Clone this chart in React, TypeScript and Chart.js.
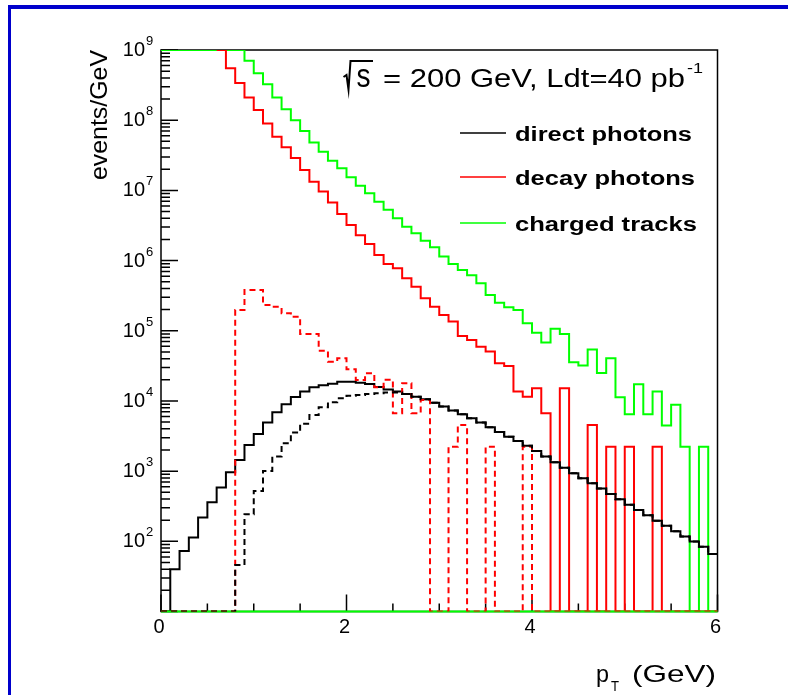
import React, { useEffect, useRef } from 'react';
import { Chart, registerables } from 'chart.js';

Chart.register(...registerables);

// ---------------- data ----------------
const Y_MIN = 10;
const Y_MAX = 1e9;

// histogram bin edges in pT (GeV), 60 bins of 0.1 GeV
const binEdges = [
  0.0, 0.1, 0.2, 0.3, 0.4, 0.5, 0.6, 0.7, 0.8, 0.9,
  1.0, 1.1, 1.2, 1.3, 1.4, 1.5, 1.6, 1.7, 1.8, 1.9,
  2.0, 2.1, 2.2, 2.3, 2.4, 2.5, 2.6, 2.7, 2.8, 2.9,
  3.0, 3.1, 3.2, 3.3, 3.4, 3.5, 3.6, 3.7, 3.8, 3.9,
  4.0, 4.1, 4.2, 4.3, 4.4, 4.5, 4.6, 4.7, 4.8, 4.9,
  5.0, 5.1, 5.2, 5.3, 5.4, 5.5, 5.6, 5.7, 5.8, 5.9,
  6.0,
];

// direct photons (solid black)
const directPhotons = [
  0, 40, 73, 113, 218, 361, 582, 964, 1445, 2360,
  3390, 4910, 6900, 8970, 11400, 13600, 15700, 16700, 17600, 18700,
  18800, 18200, 17400, 15800, 14600, 13600, 12600, 11500, 10600, 9460,
  8300, 7280, 6460, 5660, 4910, 4220, 3610, 3100, 2690, 2290,
  1940, 1610, 1340, 1120, 933, 793, 673, 564, 473, 398,
  333, 280, 236, 197, 166, 139, 117, 99, 84, 66,
];

// direct photons, second selection (dashed black)
const directPhotonsDashed = [
  0, 0, 0, 0, 0, 0, 0, 0, 46, 243,
  522, 1007, 1610, 2495, 3540, 4750, 6310, 8130, 9550, 10900,
  11900, 12200, 12600, 12900, 13200, 13200, 12600, 11500, 10600, 9460,
  8300, 7280, 6460, 5660, 4910, 4220, 3610, 3100, 2690, 2290,
  1940, 1610, 1340, 1120, 933, 793, 673, 564, 473, 398,
  333, 280, 236, 197, 166, 139, 117, 99, 84, 66,
];

// decay photons (solid red); null = no entry drawn, 1e9 = off scale at top
const decayPhotons = [
  null, null, null, null, null, null, 1e9, 5.5e8, 3.4e8, 2.1e8,
  1.4e8, 9.0e7, 5.8e7, 4.1e7, 2.9e7, 1.95e7, 1.33e7, 9.6e6, 6.7e6, 4.6e6,
  3.2e6, 2.3e6, 1.72e6, 1.2e6, 8.95e5, 7.8e5, 5.6e5, 4.25e5, 2.9e5, 2.2e5,
  1.68e5, 1.35e5, 8.4e4, 7.4e4, 5.9e4, 5.05e4, 3.45e4, 3.15e4, 1.36e4, 1.15e4,
  1.52e4, 6700, 0, 1.52e4, 0, 0, 4550, 0, 2230, 0,
  2230, 0, 0, 2230, 0, 0, 0, 0, 0, 0,
];

// decay photons, second selection (dashed red)
const decayPhotonsDashed = [
  0, 0, 0, 0, 0, 0, 0, 0, 1.98e5, 3.81e5,
  3.81e5, 2.33e5, 2.2e5, 1.77e5, 1.58e5, 9.0e4, 9.0e4, 5.2e4, 3.63e4, 4.06e4,
  2.83e4, 1.99e4, 2.48e4, 1.57e4, 2.0e4, 6700, 1.79e4, 6700, 1.03e4, 0,
  0, 2230, 4550, 0, 0, 2230, 0, 0, 0, 2230,
  0, 0, 0, 0, 0, 0, 0, 0, 0, 0,
  0, 0, 0, 0, 0, 0, 0, 0, 0, 0,
];

// charged tracks (solid green); 1e9 = off scale at top
const chargedTracks = [
  1e9, 1e9, 1e9, 1e9, 1e9, 1e9, 1e9, 1e9, 1e9, 7.0e8,
  4.65e8, 3.25e8, 2.1e8, 1.43e8, 1.0e8, 7.0e7, 4.8e7, 3.56e7, 2.65e7, 2.07e7,
  1.54e7, 1.16e7, 9.1e6, 6.9e6, 5.3e6, 4.0e6, 3.04e6, 2.45e6, 1.92e6, 1.55e6,
  1.14e6, 8.95e5, 7.35e5, 6.2e5, 4.75e5, 3.24e5, 2.5e5, 2.16e5, 1.98e5, 1.28e5,
  9.4e4, 6.8e4, 1.07e5, 9.0e4, 3.56e4, 3.2e4, 5.4e4, 2.5e4, 4.06e4, 1.13e4,
  6450, 1.73e4, 6450, 1.36e4, 4450, 8800, 2230, 0, 2230, 0,
];

const legendLabels = ['direct photons', 'decay photons', 'charged tracks'];
const legendColors = ['#000000', '#ff0000', '#00ff00'];
const xTickValues = [0, 2, 4, 6];
const xTickLabels = ['0', '2', '4', '6'];
const xMinorStep = 0.5;
const yTickExponents = [2, 3, 4, 5, 6, 7, 8, 9];

// ---------------- helpers ----------------
const FONT = '"Liberation Sans", Arial, Helvetica, sans-serif';

const clampY = (v: number | null) => {
  if (v === null || v === undefined) return null;
  if (v <= Y_MIN) return Y_MIN;
  if (v >= Y_MAX) return Y_MAX;
  return v;
};

const makeSteps = (values: (number | null)[]) => {
  const pts: any[] = values.map((v, i) => ({ x: binEdges[i], y: clampY(v) }));
  pts.push({ x: binEdges[values.length], y: clampY(values[values.length - 1]) });
  return pts;
};

function fitText(ctx: any, text: string, x: number, y: number, font: string, width: number) {
  ctx.save();
  ctx.font = font;
  const w = ctx.measureText(text).width;
  ctx.translate(x, y);
  ctx.scale(width / w, 1);
  ctx.textAlign = 'left';
  ctx.textBaseline = 'alphabetic';
  ctx.fillText(text, 0, 0);
  ctx.restore();
}

const rootStyle = {
  id: 'rootStyle',
  beforeDatasetsDraw(chart: any) {
    const { ctx, chartArea: a, scales } = chart;
    const xs = scales.x;
    const ys = scales.y;
    ctx.save();
    ctx.strokeStyle = '#000';
    ctx.lineWidth = 1.5;
    ctx.strokeRect(a.left, a.top, a.right - a.left, a.bottom - a.top);
    // y ticks (inside frame)
    ctx.beginPath();
    for (let k = 1; k <= 9; k++) {
      const dec = Math.pow(10, k);
      const py = ys.getPixelForValue(dec);
      ctx.moveTo(a.left, py);
      ctx.lineTo(a.left + 17, py);
      if (k < 9) {
        for (let m = 2; m <= 9; m++) {
          const pm = ys.getPixelForValue(m * dec);
          ctx.moveTo(a.left, pm);
          ctx.lineTo(a.left + 9, pm);
        }
      }
    }
    // x ticks
    for (let v = 0; v <= 6.0001; v += xMinorStep) {
      const px = xs.getPixelForValue(v);
      const major = xTickValues.some((t) => Math.abs(t - v) < 1e-6);
      ctx.moveTo(px, a.bottom);
      ctx.lineTo(px, a.bottom - (major ? 17 : 8));
    }
    ctx.stroke();
    ctx.restore();
  },
  afterDatasetDraw(chart: any, args: any) {
    const ds = chart.data.datasets[args.index];
    if (ds && ds.label === 'direct photons') {
      const { ctx, chartArea: a } = chart;
      ctx.save();
      ctx.strokeStyle = '#00ff00';
      ctx.lineWidth = 2;
      ctx.beginPath();
      ctx.moveTo(a.left, a.bottom);
      ctx.lineTo(a.right, a.bottom);
      ctx.stroke();
      ctx.restore();
    }
  },
  afterDraw(chart: any) {
    const { ctx, chartArea: a, scales } = chart;
    const xs = scales.x;
    const ys = scales.y;
    ctx.save();
    ctx.fillStyle = '#000';
    // y tick labels 10^n
    yTickExponents.forEach((e) => {
      const py = ys.getPixelForValue(Math.pow(10, e));
      ctx.font = '20px ' + FONT;
      ctx.textAlign = 'right';
      ctx.textBaseline = 'alphabetic';
      ctx.fillText('10', a.left - 16, py + 6);
      ctx.font = '13px ' + FONT;
      ctx.textAlign = 'left';
      ctx.fillText(String(e), a.left - 15, py - 5);
    });
    // x tick labels
    ctx.font = '20px ' + FONT;
    ctx.textAlign = 'center';
    xTickValues.forEach((v, i) => {
      ctx.fillText(xTickLabels[i], xs.getPixelForValue(v) - 2, a.bottom + 21);
    });
    // y axis title
    ctx.save();
    ctx.translate(107, 180);
    ctx.rotate(-Math.PI / 2);
    fitText(ctx, 'events/GeV', 0, 0, '24px ' + FONT, 130);
    ctx.restore();
    // x axis title
    fitText(ctx, 'p', 596, 682, '24px ' + FONT, 13);
    fitText(ctx, 'T', 611, 691, '14px ' + FONT, 8);
    fitText(ctx, '(GeV)', 632, 682, '24px ' + FONT, 84);
    // energy / luminosity label
    ctx.save();
    ctx.strokeStyle = '#000';
    ctx.lineWidth = 2;
    ctx.beginPath();
    ctx.moveTo(343.5, 77);
    ctx.lineTo(346.5, 75);
    ctx.lineTo(348.5, 89.5);
    ctx.lineTo(350.5, 61);
    ctx.lineTo(373, 61);
    ctx.stroke();
    ctx.restore();
    fitText(ctx, 's', 356.5, 87, '33px ' + FONT, 14);
    fitText(ctx, '= 200 GeV, Ldt=40 pb', 383, 87, '25px ' + FONT, 302);
    fitText(ctx, '-1', 687, 73, '15px ' + FONT, 16);
    // legend
    const rows = [133, 177, 223];
    const widths = [177, 180, 182];
    legendLabels.forEach((lab, i) => {
      ctx.save();
      ctx.strokeStyle = legendColors[i];
      ctx.lineWidth = 1.6;
      ctx.beginPath();
      ctx.moveTo(460, rows[i]);
      ctx.lineTo(506, rows[i]);
      ctx.stroke();
      ctx.restore();
      fitText(ctx, lab, 515, rows[i] + 7.5, 'bold 20px ' + FONT, widths[i]);
    });
    ctx.restore();
  },
};

export default function App() {
  const canvasRef = useRef<HTMLCanvasElement | null>(null);

  useEffect(() => {
    document.body.style.margin = '0';
    const canvas = canvasRef.current;
    if (!canvas) return;
    const line = (label: string, values: (number | null)[], color: string, order: number, dash: number[]) => ({
      label,
      data: makeSteps(values),
      borderColor: color,
      backgroundColor: color,
      borderWidth: 2,
      borderDash: dash,
      pointRadius: 0,
      pointHoverRadius: 0,
      stepped: 'before' as const,
      fill: false,
      tension: 0,
      spanGaps: false,
      order,
    });
    const chart = new Chart(canvas, {
      type: 'line',
      data: {
        datasets: [
          line('charged tracks', chargedTracks, '#00ff00', 5, []),
          line('decay photons', decayPhotons, '#ff0000', 4, []),
          line('direct photons', directPhotons, '#000000', 3, []),
          line('decay photons (dashed)', decayPhotonsDashed, '#ff0000', 2, [6, 4]),
          line('direct photons (dashed)', directPhotonsDashed, '#000000', 1, [6, 4]),
        ],
      },
      options: {
        animation: false,
        responsive: false,
        devicePixelRatio: 1,
        events: [],
        layout: { padding: { left: 161, top: 50, right: 70.5, bottom: 83.5 } },
        scales: {
          x: { type: 'linear', min: 0, max: 6, display: false },
          y: { type: 'logarithmic', min: Y_MIN, max: Y_MAX, display: false },
        },
        plugins: {
          legend: { display: false },
          tooltip: { enabled: false },
          title: { display: false },
        },
      },
      plugins: [rootStyle],
    });
    return () => chart.destroy();
  }, []);

  return (
    <div style={{ position: 'relative', width: 788, height: 695, overflow: 'hidden', background: '#fff' }}>
      <div
        style={{
          position: 'absolute',
          left: 8,
          top: 5,
          width: 1000,
          height: 1000,
          borderTop: '4px solid #0000cc',
          borderLeft: '3px solid #0000cc',
          boxSizing: 'border-box',
        }}
      />
      <canvas ref={canvasRef} width={788} height={695} style={{ position: 'absolute', left: 0, top: 0, display: 'block' }} />
    </div>
  );
}
